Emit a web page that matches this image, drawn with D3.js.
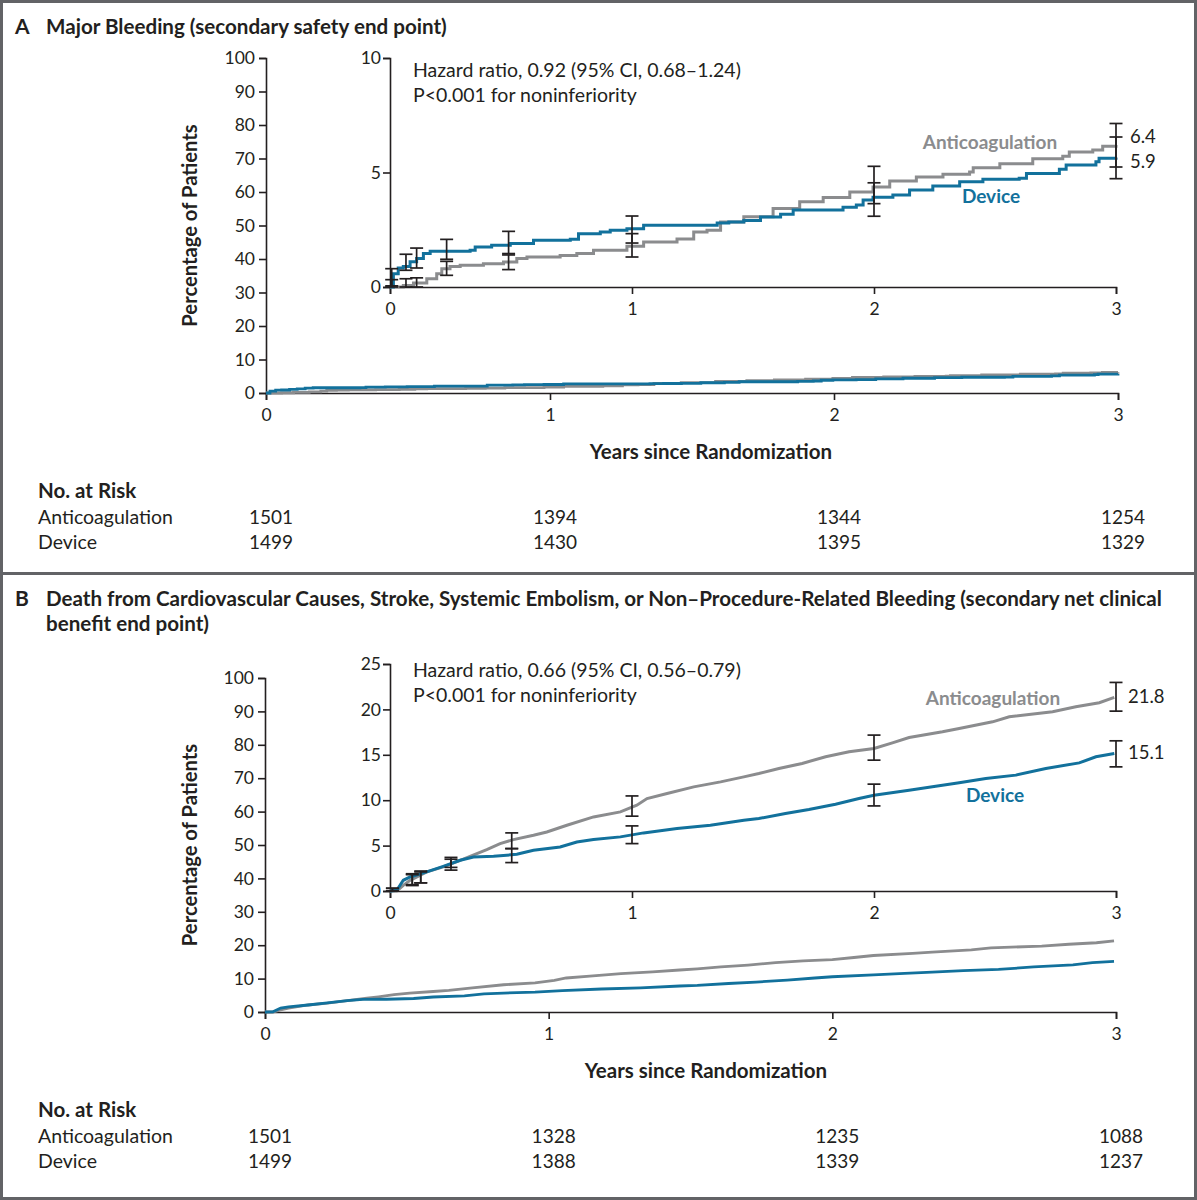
<!DOCTYPE html>
<html><head><meta charset="utf-8">
<script src="https://cdn.jsdelivr.net/npm/d3@7"></script>
<style>
body{margin:0;background:#fff}
svg{display:block}
text{font-family:Lato,"Open Sans",sans-serif;fill:#231f20}
</style>
</head><body>
<svg id="c" width="1197" height="1200"></svg>
<script>
// ---------------- DATA ----------------
const years = [0, 1, 2, 3];
const outerYTicks = [0,10,20,30,40,50,60,70,80,90,100];
const insetATicks = [0, 5, 10];
const insetBTicks = [0, 5, 10, 15, 20, 25];
const groups = ["Anticoagulation", "Device"];

// Panel A: Major bleeding (cumulative %)
const aAntiT = [0,0.028,0.055,0.097,0.152,0.193,0.214,0.248,0.29,0.386,0.469,0.524,0.566,0.703,0.772,0.841,0.979,1.048,1.186,1.255,1.31,1.366,1.462,1.583,1.693,1.79,1.9,1.996,2.065,2.175,2.285,2.395,2.41,2.52,2.656,2.78,2.807,2.904,2.945,3.0];
const aAntiV = [0,0,0.07,0.17,0.36,0.58,0.8,0.9,0.95,1.02,1.09,1.24,1.31,1.38,1.46,1.6,1.78,1.97,2.1,2.4,2.48,2.84,3.07,3.43,3.72,3.91,4.15,4.37,4.63,4.8,4.92,5.02,5.21,5.38,5.6,5.71,5.9,5.98,6.15,6.2];
const aDevT = [0,0.014,0.034,0.055,0.083,0.11,0.138,0.166,0.331,0.352,0.42,0.497,0.593,0.745,0.779,0.869,0.91,0.979,1.048,1.352,1.4,1.462,1.531,1.614,1.666,1.872,1.927,1.955,1.996,2.078,2.147,2.243,2.354,2.45,2.6,2.63,2.766,2.794,2.917,2.93,3.0];
const aDevV = [0,0.58,0.83,0.9,1.1,1.24,1.46,1.56,1.6,1.75,1.82,1.9,2.04,2.08,2.33,2.4,2.48,2.54,2.7,2.8,2.84,2.9,3.06,3.18,3.36,3.48,3.58,3.8,3.92,4.02,4.24,4.41,4.6,4.7,4.75,4.96,5.14,5.33,5.47,5.62,5.66];
const aCiT = [0.007,0.066,0.11,0.234,0.49,1,2,3];
const aAntiLo = [0,0,0,0.51,0.76,1.31,3.64,5.24];
const aAntiHi = [0.32,0.36,0.4,1.12,1.4,2.33,5.27,7.14];
const aDevLo = [0.05,0.73,0.83,1.21,1.46,1.92,3.09,4.73];
const aDevHi = [0.8,1.43,1.7,2.08,2.43,3.1,4.55,6.55];
const aEndLabels = ["6.4", "5.9"];
const aHazard = ["Hazard ratio, 0.92 (95% CI, 0.68\u20131.24)", "P<0.001 for noninferiority"];
const aRiskAnti = [1501, 1394, 1344, 1254];
const aRiskDev = [1499, 1430, 1395, 1329];

// Panel B: net clinical benefit end point (cumulative %)
const bAntiT = [0,0.028,0.055,0.083,0.152,0.22,0.29,0.359,0.4,0.455,0.51,0.593,0.648,0.731,0.841,0.952,1.02,1.062,1.145,1.255,1.366,1.462,1.524,1.607,1.703,1.8,1.897,2.0,2.076,2.145,2.283,2.352,2.49,2.559,2.738,2.834,2.931,2.993];
const bAntiV = [0,0,0.62,1.18,2.1,2.65,3.38,4.12,4.56,5.22,5.66,6.14,6.5,7.24,8.16,8.71,9.45,10.18,10.74,11.47,12.02,12.57,12.94,13.49,14.05,14.78,15.33,15.7,16.32,16.91,17.53,17.9,18.63,19.18,19.74,20.29,20.73,21.32];
const bDevT = [0,0.028,0.055,0.083,0.152,0.22,0.29,0.345,0.428,0.524,0.593,0.703,0.772,0.841,0.952,1.048,1.186,1.324,1.462,1.524,1.634,1.731,1.841,1.938,2.0,2.145,2.255,2.352,2.462,2.586,2.71,2.848,2.917,2.993];
const bDevV = [0,0.07,1.18,1.54,2.1,2.72,3.38,3.75,3.82,4.04,4.49,4.85,5.4,5.66,5.96,6.4,6.88,7.24,7.79,7.98,8.53,8.97,9.56,10.18,10.55,11.1,11.54,11.91,12.39,12.76,13.49,14.11,14.78,15.15];
const bCiT = [0.01,0.092,0.127,0.252,0.503,1,2,3];
const bAntiLo = [0,0.6,0.9,2.6,4.67,8.24,14.41,19.81];
const bAntiHi = [0.3,1.9,2.2,3.7,6.4,10.47,17.17,22.97];
const bDevLo = [0,0.7,0.9,2.3,3.13,5.22,9.37,13.67];
const bDevHi = [0.3,1.8,2.1,3.5,4.67,7.17,11.77,16.54];
const bEndLabels = ["21.8", "15.1"];
const bHazard = ["Hazard ratio, 0.66 (95% CI, 0.56\u20130.79)", "P<0.001 for noninferiority"];
const bRiskAnti = [1501, 1328, 1235, 1088];
const bRiskDev = [1499, 1388, 1339, 1237];

const titleA = ["Major Bleeding (secondary safety end point)"];
const titleB = ["Death from Cardiovascular Causes, Stroke, Systemic Embolism, or Non\u2013Procedure-Related Bleeding (secondary net clinical", "benefit end point)"];

// ---------------- STYLE ----------------
const INK = "#231f20", GRAY = "#8b8c8e", BLUE = "#12719c", FRAME = "#626366";
const svg = d3.select("#c");

svg.append("rect").attr("x",1.5).attr("y",1.5).attr("width",1194).attr("height",1197)
  .attr("fill","none").attr("stroke",FRAME).attr("stroke-width",3);
svg.append("line").attr("x1",0).attr("x2",1197).attr("y1",573.5).attr("y2",573.5)
  .attr("stroke",FRAME).attr("stroke-width",3);

function zip(t, v){ return t.map((d,i)=>[d, v[i]]); }

function styleAxis(g, fs){
  g.attr("font-size", fs).attr("font-family", null);
  g.selectAll("path.domain").attr("stroke", INK).attr("stroke-width", 1.6);
  g.selectAll(".tick line").attr("stroke", INK).attr("stroke-width", 1.6);
}

function drawPanel(cfg){
  const g = svg.append("g");
  // titles
  g.append("text").attr("x",15).attr("y",cfg.titleY).attr("font-size",21).attr("font-weight",700).text(cfg.letter);
  cfg.title.forEach((s,i)=>{
    g.append("text").attr("x",46).attr("y",cfg.titleY + i*25).attr("font-size",20.6).attr("font-weight",700).text(s);
  });

  // outer scales
  const ox = d3.scaleLinear().domain([0,3]).range([cfg.ox0, cfg.ox1]);
  const oy = d3.scaleLinear().domain([0,100]).range([cfg.oyB, cfg.oyT]);
  const oxAxis = g.append("g").attr("transform",`translate(0,${cfg.oyB})`)
    .call(d3.axisBottom(ox).tickValues(years).tickFormat(d3.format("d")).tickSizeOuter(0).tickSize(7).tickPadding(9));
  styleAxis(oxAxis, 17.5);
  const oyAxis = g.append("g").attr("transform",`translate(${cfg.ox0},0)`)
    .call(d3.axisLeft(oy).tickValues(outerYTicks).tickSizeOuter(0).tickSize(7).tickPadding(4));
  styleAxis(oyAxis, 17.5);

  g.append("text").attr("transform",`translate(${cfg.ylabX},${(cfg.oyB+cfg.oyT)/2}) rotate(-90)`)
    .attr("text-anchor","middle").attr("font-size",20.2).attr("font-weight",700).text("Percentage of Patients");
  g.append("text").attr("x",cfg.xlabX).attr("y",cfg.xlabY).attr("text-anchor","middle")
    .attr("font-size",20.5).attr("font-weight",700).text("Years since Randomization");

  const curve = cfg.step ? d3.curveStepAfter : d3.curveLinear;
  const oLine = d3.line().x(d=>ox(d[0])).y(d=>oy(d[1])).curve(curve);
  g.append("path").attr("d", oLine(zip(cfg.antiT, cfg.antiV))).attr("fill","none").attr("stroke",GRAY).attr("stroke-width",2.8);
  g.append("path").attr("d", oLine(zip(cfg.devT, cfg.devV))).attr("fill","none").attr("stroke",BLUE).attr("stroke-width",2.8);

  // inset
  const ix = d3.scaleLinear().domain([0,3]).range([cfg.ix0, cfg.ix1]);
  const iy = d3.scaleLinear().domain([0,cfg.iMax]).range([cfg.iyB, cfg.iyT]);
  const ixAxis = g.append("g").attr("transform",`translate(0,${cfg.iyB})`)
    .call(d3.axisBottom(ix).tickValues(years).tickFormat(d3.format("d")).tickSizeOuter(0).tickSize(7).tickPadding(9));
  styleAxis(ixAxis, 17.5);
  const iyAxis = g.append("g").attr("transform",`translate(${cfg.ix0},0)`)
    .call(d3.axisLeft(iy).tickValues(cfg.iTicks).tickSizeOuter(0).tickSize(7).tickPadding(2));
  styleAxis(iyAxis, 17.5);

  const iLine = d3.line().x(d=>ix(d[0])).y(d=>iy(d[1])).curve(curve);
  g.append("path").attr("d", iLine(zip(cfg.antiT, cfg.antiV))).attr("fill","none").attr("stroke",GRAY).attr("stroke-width",3);
  g.append("path").attr("d", iLine(zip(cfg.devT, cfg.devV))).attr("fill","none").attr("stroke",BLUE).attr("stroke-width",3);

  // error bars
  const bars = [];
  cfg.ciT.forEach((t,i)=>{
    bars.push({t, lo:cfg.antiLo[i], hi:cfg.antiHi[i]});
    bars.push({t, lo:cfg.devLo[i], hi:cfg.devHi[i]});
  });
  const eb = g.append("g").attr("stroke",INK).attr("stroke-width",1.7).attr("fill","none");
  bars.forEach(b=>{
    const x = ix(b.t);
    eb.append("line").attr("x1",x).attr("x2",x).attr("y1",iy(b.lo)).attr("y2",iy(b.hi));
    eb.append("line").attr("x1",x-6.5).attr("x2",x+6.5).attr("y1",iy(b.lo)).attr("y2",iy(b.lo));
    eb.append("line").attr("x1",x-6.5).attr("x2",x+6.5).attr("y1",iy(b.hi)).attr("y2",iy(b.hi));
  });

  // labels
  cfg.hazard.forEach((s,i)=>{
    g.append("text").attr("x",cfg.ix0+23).attr("y",cfg.hazY + i*25).attr("font-size",19.5).text(s);
  });
  g.append("text").attr("x",cfg.endX).attr("y",cfg.endY[0]).attr("font-size",18.5).attr("dy","0.35em").text(cfg.endLabels[0]);
  g.append("text").attr("x",cfg.endX).attr("y",cfg.endY[1]).attr("font-size",18.5).attr("dy","0.35em").text(cfg.endLabels[1]);
  g.append("text").attr("x",cfg.antiLab[0]).attr("y",cfg.antiLab[1]).attr("dy","0.35em").attr("text-anchor","middle")
    .attr("font-size",19).attr("font-weight",700).style("fill",GRAY).text(groups[0]);
  g.append("text").attr("x",cfg.devLab[0]).attr("y",cfg.devLab[1]).attr("dy","0.35em").attr("text-anchor","middle")
    .attr("font-size",19).attr("font-weight",700).style("fill",BLUE).text(groups[1]);

  // number at risk
  g.append("text").attr("x",38).attr("y",cfg.riskY).attr("dy","0.35em").attr("font-size",20.5).attr("font-weight",700).text("No. at Risk");
  [cfg.riskAnti, cfg.riskDev].forEach((row,r)=>{
    const yy = cfg.riskY + 26 + r*25;
    g.append("text").attr("x",38).attr("y",yy).attr("dy","0.35em").attr("font-size",19.5).text(groups[r]);
    row.forEach((n,i)=>{
      g.append("text").attr("x",ox(years[i])+5).attr("y",yy).attr("dy","0.35em").attr("text-anchor","middle")
        .attr("font-size",19).text(n);
    });
  });
}

drawPanel({
  letter:"A", title:titleA, titleY:34,
  ox0:266, ox1:1118, oyT:58, oyB:393, ylabX:197, xlabX:711, xlabY:459,
  ix0:390, ix1:1116, iyT:58, iyB:287, iMax:10, iTicks:insetATicks, step:true,
  antiT:aAntiT, antiV:aAntiV, devT:aDevT, devV:aDevV,
  ciT:aCiT, antiLo:aAntiLo, antiHi:aAntiHi, devLo:aDevLo, devHi:aDevHi,
  hazard:aHazard, hazY:77, endLabels:aEndLabels, endX:1130, endY:[137,162],
  antiLab:[990,142], devLab:[991,196],
  riskY:491, riskAnti:aRiskAnti, riskDev:aRiskDev
});

drawPanel({
  letter:"B", title:titleB, titleY:606,
  ox0:265, ox1:1116, oyT:678, oyB:1012, ylabX:197, xlabX:706, xlabY:1078,
  ix0:390, ix1:1116, iyT:664, iyB:891, iMax:25, iTicks:insetBTicks, step:false,
  antiT:bAntiT, antiV:bAntiV, devT:bDevT, devV:bDevV,
  ciT:bCiT, antiLo:bAntiLo, antiHi:bAntiHi, devLo:bDevLo, devHi:bDevHi,
  hazard:bHazard, hazY:677, endLabels:bEndLabels, endX:1128, endY:[697,753],
  antiLab:[993,698], devLab:[995,795],
  riskY:1110, riskAnti:bRiskAnti, riskDev:bRiskDev
});
</script>
</body></html>
